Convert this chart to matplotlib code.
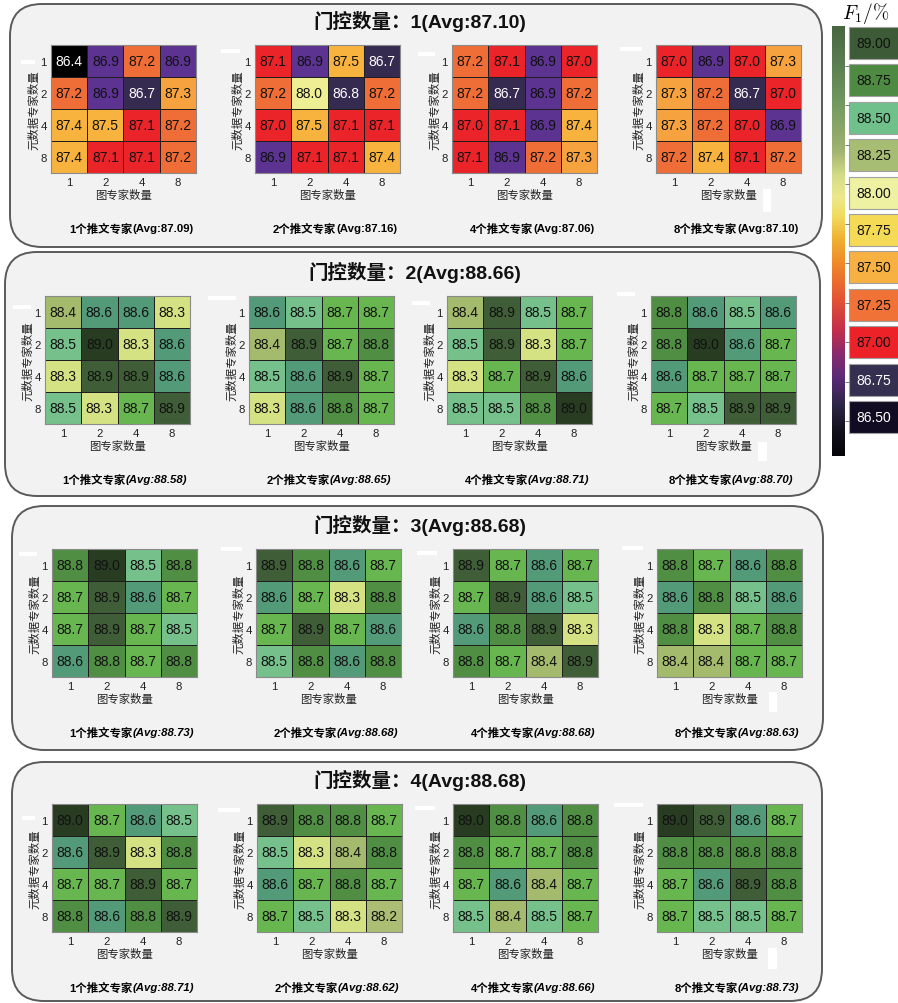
import numpy as np
import matplotlib
matplotlib.use("Agg")
import matplotlib.pyplot as plt
from matplotlib.colors import ListedColormap, BoundaryNorm, LinearSegmentedColormap
from matplotlib.patches import FancyBboxPatch, Rectangle

plt.rcParams['font.family'] = ['Liberation Sans', 'Noto Sans CJK SC']
plt.rcParams['mathtext.fontset'] = 'cm'

# ---- data ----
expert_ticks = ["1", "2", "4", "8"]
tweet_experts = [1, 2, 4, 8]
gate_counts = [1, 2, 3, 4]
gate_avg = [87.10, 88.66, 88.68, 88.68]
panel_avg = [[87.09, 87.16, 87.06, 87.10],
             [88.58, 88.65, 88.71, 88.70],
             [88.73, 88.68, 88.68, 88.63],
             [88.71, 88.62, 88.66, 88.73]]

gate1 = [
    [[86.4, 86.9, 87.2, 86.9], [87.2, 86.9, 86.7, 87.3], [87.4, 87.5, 87.1, 87.2], [87.4, 87.1, 87.1, 87.2]],
    [[87.1, 86.9, 87.5, 86.7], [87.2, 88.0, 86.8, 87.2], [87.0, 87.5, 87.1, 87.1], [86.9, 87.1, 87.1, 87.4]],
    [[87.2, 87.1, 86.9, 87.0], [87.2, 86.7, 86.9, 87.2], [87.0, 87.1, 86.9, 87.4], [87.1, 86.9, 87.2, 87.3]],
    [[87.0, 86.9, 87.0, 87.3], [87.3, 87.2, 86.7, 87.0], [87.3, 87.2, 87.0, 86.9], [87.2, 87.4, 87.1, 87.2]],
]
gate2 = [
    [[88.4, 88.6, 88.6, 88.3], [88.5, 89.0, 88.3, 88.6], [88.3, 88.9, 88.9, 88.6], [88.5, 88.3, 88.7, 88.9]],
    [[88.6, 88.5, 88.7, 88.7], [88.4, 88.9, 88.7, 88.8], [88.5, 88.6, 88.9, 88.7], [88.3, 88.6, 88.8, 88.7]],
    [[88.4, 88.9, 88.5, 88.7], [88.5, 88.9, 88.3, 88.7], [88.3, 88.7, 88.9, 88.6], [88.5, 88.5, 88.8, 89.0]],
    [[88.8, 88.6, 88.5, 88.6], [88.8, 89.0, 88.6, 88.7], [88.6, 88.7, 88.7, 88.7], [88.7, 88.5, 88.9, 88.9]],
]
gate3 = [
    [[88.8, 89.0, 88.5, 88.8], [88.7, 88.9, 88.6, 88.7], [88.7, 88.9, 88.7, 88.5], [88.6, 88.8, 88.7, 88.8]],
    [[88.9, 88.8, 88.6, 88.7], [88.6, 88.7, 88.3, 88.8], [88.7, 88.9, 88.7, 88.6], [88.5, 88.8, 88.6, 88.8]],
    [[88.9, 88.7, 88.6, 88.7], [88.7, 88.9, 88.6, 88.5], [88.6, 88.8, 88.9, 88.3], [88.8, 88.7, 88.4, 88.9]],
    [[88.8, 88.7, 88.6, 88.8], [88.6, 88.8, 88.5, 88.6], [88.8, 88.3, 88.7, 88.8], [88.4, 88.4, 88.7, 88.7]],
]
gate4 = [
    [[89.0, 88.7, 88.6, 88.5], [88.6, 88.9, 88.3, 88.8], [88.7, 88.7, 88.9, 88.7], [88.8, 88.6, 88.8, 88.9]],
    [[88.9, 88.8, 88.8, 88.7], [88.5, 88.3, 88.4, 88.8], [88.6, 88.7, 88.8, 88.7], [88.7, 88.5, 88.3, 88.2]],
    [[89.0, 88.8, 88.6, 88.8], [88.8, 88.7, 88.7, 88.8], [88.7, 88.6, 88.4, 88.7], [88.5, 88.4, 88.5, 88.7]],
    [[89.0, 88.9, 88.6, 88.7], [88.8, 88.8, 88.8, 88.8], [88.7, 88.6, 88.9, 88.8], [88.7, 88.5, 88.5, 88.7]],
]
scores = [gate1, gate2, gate3, gate4]

legend_levels = [89.00, 88.75, 88.50, 88.25, 88.00, 87.75, 87.50, 87.25, 87.00, 86.75, 86.50]

# ---- colours: one colour per 0.1 step, 86.4 .. 89.0 ----
cell_colors = ["#000000", "#140c24", "#2a2040", "#352b50", "#352b50", "#5c3391",
               "#ea2429", "#ea2429", "#ef6e37", "#f6a33f", "#f8b33f", "#f8b33f",
               "#f7c545", "#f5d850", "#f2e070", "#f0ea88", "#eeee95", "#c8d07a",
               "#abbe73", "#d5e283", "#a4ba6d", "#76c18b", "#539a79", "#68b650",
               "#508e44", "#3f5d36", "#283c22"]
cell_cmap = ListedColormap(cell_colors)
cell_norm = BoundaryNorm(np.arange(86.35, 89.06, 0.1), cell_cmap.N)

box_colors = ["#3d5b36", "#4e8a42", "#70c08c", "#a8bd74", "#eef0a2", "#f5da55",
              "#f7b042", "#f07236", "#ec2228", "#363050", "#120c22"]

strip_lo, strip_hi = 86.28, 89.0
strip_stops = [(86.28, "#050508"), (86.45, "#15121f"), (86.6, "#2e2646"), (86.77, "#5a2a78"),
               (86.92, "#882a6e"), (87.08, "#c4304a"), (87.28, "#e65535"), (87.5, "#ef8a2a"),
               (87.65, "#f0b030"), (87.8, "#f0dc60"), (87.92, "#ece98c"), (88.05, "#d5dd88"),
               (88.22, "#a0b270"), (88.54, "#6e975e"), (89.0, "#466640")]
strip_cmap = LinearSegmentedColormap.from_list(
    "strip", [((v - strip_lo) / (strip_hi - strip_lo), c) for v, c in strip_stops])

# ---- layout (pixels) ----
W, H = 898, 1004
fig = plt.figure(figsize=(W / 100, H / 100), dpi=100)

def px_axes(l, t, w, h):
    return fig.add_axes([l / W, 1 - (t + h) / H, w / W, h / H])

bg = px_axes(0, 0, W, H)
bg.set_xlim(0, W); bg.set_ylim(H, 0); bg.axis("off")

hm_left = [[51, 255, 452, 656], [45, 249, 447, 651], [52, 256, 453, 657], [52, 257, 453, 657]]
hm_top = [46, 297, 550, 805]
hm_w, hm_h = 145, 128
box_x = [(10, 822), (5, 820), (12, 823), (12, 822)]
box_y = [(5, 248), (253, 497), (507, 751), (763, 1002)]
title_x = [420, 415, 420, 420]

renderer = fig.canvas.get_renderer()

for g in range(4):
    x0, x1 = box_x[g]; y0, y1 = box_y[g]
    bg.add_patch(FancyBboxPatch((x0, y0), x1 - x0, y1 - y0,
                                boxstyle="round,pad=0,rounding_size=32",
                                facecolor="#f2f2f2", edgecolor="#5a5a5a", lw=1.4))
    bg.text(title_x[g], hm_top[g] - 25, f"门控数量：{gate_counts[g]}(Avg:{gate_avg[g]:.2f})",
            ha="center", va="center", fontsize=14, fontweight="bold", color="#111111")
    for p in range(4):
        ax = px_axes(hm_left[g][p], hm_top[g], hm_w, hm_h)
        m = np.array(scores[g][p])
        ax.pcolormesh(m, cmap=cell_cmap, norm=cell_norm, edgecolors="#1e1e1e", linewidth=0.6)
        ax.set_xlim(0, 4); ax.set_ylim(4, 0)
        for i in range(4):
            for j in range(4):
                v = m[i, j]
                ax.text(j + 0.5, i + 0.5, f"{v:.1f}", ha="center", va="center",
                        fontsize=10, color="white" if v < 86.85 else "#111111")
        ax.set_xticks(np.arange(4) + 0.5, expert_ticks)
        ax.set_yticks(np.arange(4) + 0.5, expert_ticks)
        ax.tick_params(length=0, pad=3, labelsize=8.2, colors="#222222")
        ax.set_xlabel("图专家数量", fontsize=8.2, labelpad=1, color="#222222")
        ax.set_ylabel("元数据专家数量", fontsize=8.2, labelpad=1, color="#222222")
        for s in ax.spines.values():
            s.set_color("#8a8a8a"); s.set_linewidth(0.8)

        cx = hm_left[g][p] + 80
        cy = hm_top[g] + 183
        s1 = f"{tweet_experts[p]}个推文专家"
        s2 = f"(Avg:{panel_avg[g][p]:.2f})"
        t1 = bg.text(0, cy, s1, fontsize=8.2, fontweight="bold", va="center", ha="left")
        t2 = bg.text(0, cy, s2, fontsize=8.2, fontweight="bold", va="center", ha="left",
                     style="normal" if g == 0 else "italic")
        w1 = t1.get_window_extent(renderer).width
        w2 = t2.get_window_extent(renderer).width
        t1.set_x(cx - (w1 + w2) / 2)
        t2.set_x(cx - (w1 + w2) / 2 + w1)

# ---- colour strip + level boxes ----
cax = px_axes(832, 27, 13, 430)
cax.imshow(np.linspace(strip_lo, strip_hi, 256)[:, None], aspect="auto", cmap=strip_cmap,
           extent=[0, 1, strip_lo, strip_hi], origin="lower", vmin=strip_lo, vmax=strip_hi)
cax.set_ylim(strip_lo, strip_hi)
cax.set_xticks([])
cax.yaxis.tick_right()
cax.set_yticks(np.arange(86.5, 89.0, 0.25), [])
cax.tick_params(axis="y", length=3, width=0.6, color="#666666")
for s in cax.spines.values():
    s.set_visible(False)

bg.text(866, 14, r"$F_1/\%$", ha="center", va="center", fontsize=14)
for k, (lev, col) in enumerate(zip(legend_levels, box_colors)):
    top = 28 + k * 37.4
    bg.add_patch(Rectangle((849, top), 60, 32, facecolor=col, edgecolor="#a0a0a0", lw=0.8))
    bg.text(874, top + 16, f"{lev:.2f}", ha="center", va="center", fontsize=10,
            color="white" if lev < 86.9 else "#111111")

# small white masking patches present in the source image
white_marks = [(21, 61, 14, 4), (221, 50, 19, 4), (418, 53, 17, 4), (620, 48, 22, 4), (763, 190, 8, 23),
               (13, 306, 18, 4), (208, 297, 28, 4), (412, 302, 18, 4), (617, 293, 18, 4), (758, 443, 9, 19),
               (19, 553, 18, 4), (221, 548, 21, 4), (417, 552, 20, 4), (622, 547, 21, 4), (769, 693, 8, 20),
               (22, 817, 13, 4), (218, 809, 22, 4), (415, 807, 20, 4), (614, 804, 29, 4), (768, 949, 9, 21)]
for (x, y, w, h) in white_marks:
    bg.add_patch(Rectangle((x, y), w, h, facecolor="white", edgecolor="none", zorder=5))

fig.savefig("out.png", dpi=100)
